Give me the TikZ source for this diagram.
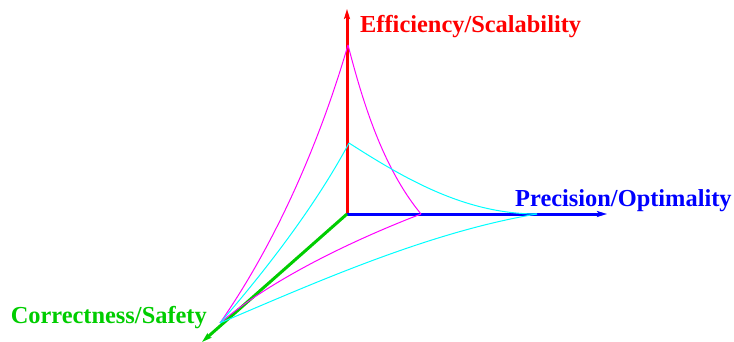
\documentclass[tikz,border=0pt]{standalone}
\usepackage{fontspec}
\setmainfont{Liberation Serif}
\usetikzlibrary{arrows.meta}
\definecolor{axRed}  {RGB}{255,  0,  0}
\definecolor{axBlue} {RGB}{  0,  0,255}
\definecolor{axGreen}{RGB}{  0,205,  0}
\definecolor{cvMag}  {RGB}{255,  0,255}
\definecolor{cvCyan} {RGB}{  0,255,255}

\begin{document}
\begin{tikzpicture}[
  x=1pt,y=-1pt,
  >={Stealth[length=10pt,width=6pt,inset=2pt]},
  axis/.style={->,line width=3pt},
  curve/.style={line width=1pt},
  lbl/.style={font=\fontsize{24.4}{28}\selectfont\bfseries,inner sep=0pt}
]
\useasboundingbox (0,0) rectangle (734,342);
% axes
\coordinate (O)    at (347,214);
\coordinate (effT) at (347,9);
\coordinate (preT) at (607,214);
\coordinate (corT) at (202,342);
% trade-off points
\coordinate (mTop) at (348,45);
\coordinate (mRgt) at (421,214);
\coordinate (cTop) at (349,143);
\coordinate (cRgt) at (537,214);
\coordinate (gPt)  at (220,323);

\draw[axis,axRed]   (O) -- (effT);
\draw[axis,axBlue]  (O) -- (preT);
\draw[axis,axGreen] (O) -- (corT);

% magenta surface
\draw[curve,cvMag] (mTop) .. controls (320,141) and (277,241) .. (gPt);
\draw[curve,cvMag] (mTop) .. controls (363,103) and (383,168) .. (mRgt);
\draw[curve,cvMag] (mRgt) .. controls (356,239) and (273,278) .. (gPt);
% cyan surface
\draw[curve,cvCyan] (cTop) .. controls (316,205) and (266,270) .. (gPt);
\draw[curve,cvCyan] (cTop) .. controls (408,181) and (467,214) .. (cRgt);
\draw[curve,cvCyan] (cRgt) .. controls (428,232) and (312,284) .. (gPt);

% labels
\node[lbl,axRed,anchor=base west]   (effL) at (360,33)  {Efficiency/Scalability};
\node[lbl,axBlue,anchor=base west]  (preL) at (515,207) {Precision/Optimality};
\node[lbl,axGreen,anchor=base east] (corL) at (207,323) {Correctness/Safety};
\end{tikzpicture}
\end{document}
